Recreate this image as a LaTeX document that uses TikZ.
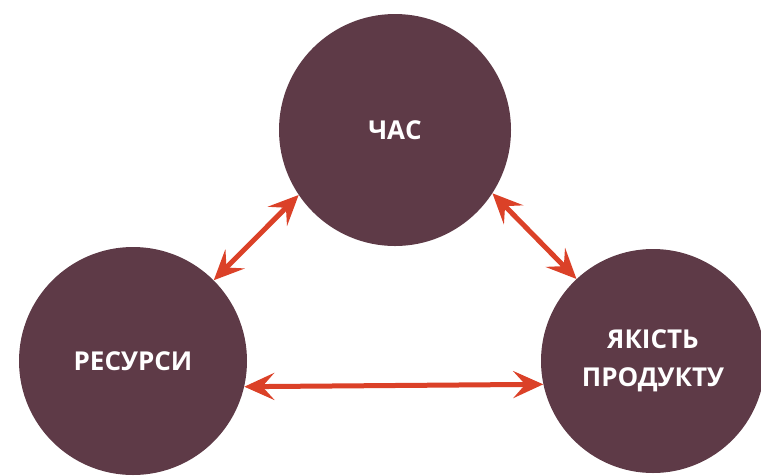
\documentclass[tikz,border=0pt]{standalone}
\usepackage{fontspec}
\setmainfont{Open Sans}
\usetikzlibrary{arrows.meta}
\definecolor{plum}{HTML}{5E3A47}
\definecolor{arrowred}{HTML}{DB4128}
\begin{document}
\begin{tikzpicture}[x=1pt,y=-1pt,
  bubble/.style={circle,fill=plum,text=white,inner sep=0pt,align=center,
    font=\fontsize{26}{38}\selectfont\bfseries},
  link/.style={draw=arrowred,line width=5pt,
    {Stealth[length=30pt,width=27pt,inset=12pt]}-{Stealth[length=30pt,width=27pt,inset=12pt]}}]
  \useasboundingbox (0,0) rectangle (761,475);
  \node[bubble,minimum size=232pt] (chas) at (395,130) {ЧАС};
  \node[bubble,minimum size=228pt] (res) at (133,361) {РЕСУРСИ};
  \node[bubble,minimum size=224pt] (prod) at (653,361) {ЯКІСТЬ\\ПРОДУКТУ};
  \draw[link] (res.45) -- (chas.214);
  \draw[link] (chas.327) -- (prod.133);
  \draw[link] (res.347.3) -- (prod.192.9);
\end{tikzpicture}
\end{document}
